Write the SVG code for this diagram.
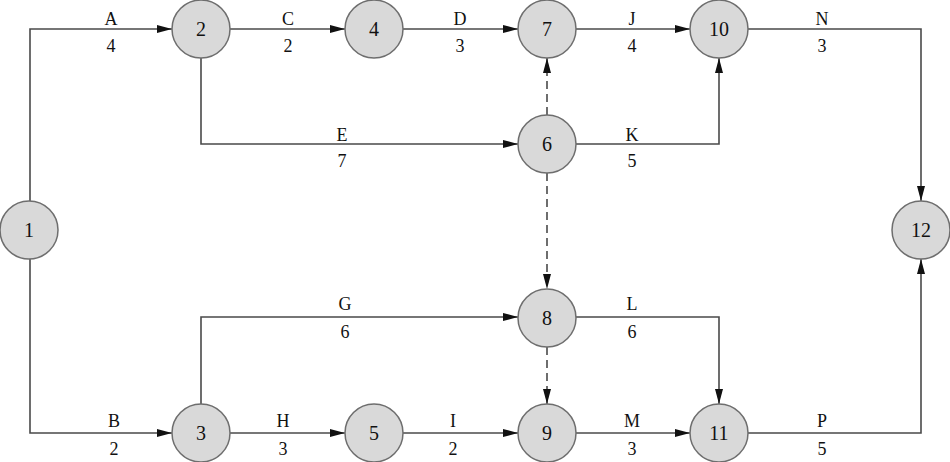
<svg xmlns="http://www.w3.org/2000/svg" width="950" height="462" viewBox="0 0 950 462">
<style>
.n circle{fill:#d9d9d9;stroke:#6e6e6e;stroke-width:1.5}
.n text{font-family:"Liberation Serif","Times New Roman",serif;font-size:20px;fill:#111;text-anchor:middle}
.c path{fill:none;stroke:#4a4a4a;stroke-width:1.6;marker-end:url(#ah)}
.c path.d{stroke-dasharray:8 5}
.lb text{font-family:"Liberation Serif","Times New Roman",serif;font-size:18px;fill:#111;text-anchor:middle}
</style>
<defs>
<marker id="ah" markerUnits="userSpaceOnUse" markerWidth="15" markerHeight="8" refX="15" refY="4" orient="auto">
<path d="M0,0 L15,4 L0,8 z" fill="#111"/>
</marker>
</defs>
<rect width="950" height="462" fill="#fff"/>
<g class="c" id="connectors">
<path d="M30,201 L30,29 L172,29"/>
<path d="M30,259 L30,433 L172,433"/>
<path d="M230,29 L345,29"/>
<path d="M403,29 L518,29"/>
<path d="M576,29 L690,29"/>
<path d="M748,29 L921,29 L921,201"/>
<path d="M201,58 L201,144 L518,144"/>
<path d="M576,144 L719,144 L719,58"/>
<path class="d" d="M547,115 L547,58"/>
<path class="d" d="M547,173 L547,289"/>
<path class="d" d="M547,347 L547,404"/>
<path d="M201,404 L201,317 L518,317"/>
<path d="M576,317 L719,317 L719,404"/>
<path d="M230,433 L345,433"/>
<path d="M403,433 L518,433"/>
<path d="M576,433 L690,433"/>
<path d="M748,433 L921,433 L921,259"/>
</g>
<g class="lb" id="labels">
<text x="111" y="25">A</text><text x="111" y="52">4</text>
<text x="288" y="25">C</text><text x="288" y="52">2</text>
<text x="460" y="25">D</text><text x="460" y="52">3</text>
<text x="632" y="25">J</text><text x="632" y="52">4</text>
<text x="822" y="25">N</text><text x="822" y="52">3</text>
<text x="342" y="141">E</text><text x="342" y="167">7</text>
<text x="632" y="141">K</text><text x="632" y="167">5</text>
<text x="345" y="310">G</text><text x="345" y="338">6</text>
<text x="632" y="310">L</text><text x="632" y="338">6</text>
<text x="114" y="427">B</text><text x="114" y="455">2</text>
<text x="283" y="427">H</text><text x="283" y="455">3</text>
<text x="453" y="427">I</text><text x="453" y="455">2</text>
<text x="632" y="427">M</text><text x="632" y="455">3</text>
<text x="822" y="427">P</text><text x="822" y="455">5</text>
</g>
<g class="n" id="n1"><circle cx="29" cy="230" r="29"/><text x="29" y="237">1</text></g>
<g class="n" id="n2"><circle cx="201" cy="29" r="29"/><text x="201" y="36">2</text></g>
<g class="n" id="n3"><circle cx="201" cy="433" r="29"/><text x="201" y="440">3</text></g>
<g class="n" id="n4"><circle cx="374" cy="29" r="29"/><text x="374" y="36">4</text></g>
<g class="n" id="n5"><circle cx="374" cy="433" r="29"/><text x="374" y="440">5</text></g>
<g class="n" id="n6"><circle cx="547" cy="144" r="29"/><text x="547" y="151">6</text></g>
<g class="n" id="n7"><circle cx="547" cy="29" r="29"/><text x="547" y="36">7</text></g>
<g class="n" id="n8"><circle cx="547" cy="318" r="29"/><text x="547" y="325">8</text></g>
<g class="n" id="n9"><circle cx="547" cy="433" r="29"/><text x="547" y="440">9</text></g>
<g class="n" id="n10"><circle cx="719" cy="29" r="29"/><text x="719" y="36">10</text></g>
<g class="n" id="n11"><circle cx="719" cy="433" r="29"/><text x="719" y="440">11</text></g>
<g class="n" id="n12"><circle cx="921" cy="230" r="29"/><text x="921" y="237">12</text></g>
</svg>
